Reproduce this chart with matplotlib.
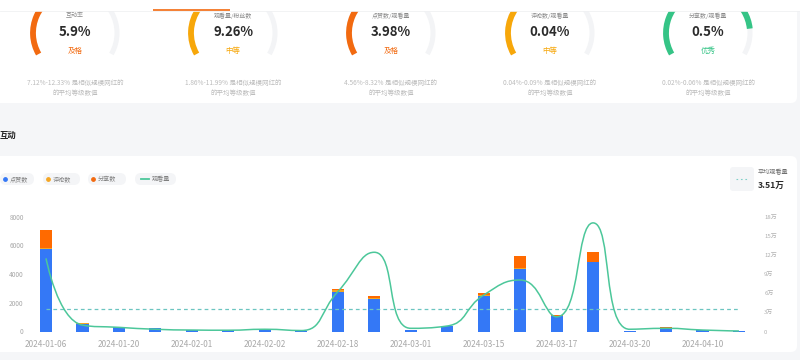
import numpy as np
import matplotlib
matplotlib.use('agg')
import matplotlib.pyplot as plt
from matplotlib.patches import Arc, FancyBboxPatch, Rectangle
from matplotlib.path import Path
from matplotlib.patches import PathPatch
from matplotlib.ticker import FuncFormatter

plt.rcParams['font.family'] = ['Noto Sans CJK SC', 'DejaVu Sans']

# gauge cards
gauge_titles = ['互动率', '观看量/粉丝数', '点赞数/观看量', '评论数/观看量', '分享数/观看量']
gauge_values = ['5.9%', '9.26%', '3.98%', '0.04%', '0.5%']
gauge_grades = ['及格', '中等', '及格', '中等', '优秀']
gauge_fill = [0.45, 0.55, 0.45, 0.55, 0.85]
gauge_ranges = ['7.12%-12.33%', '1.86%-11.99%', '4.56%-8.32%', '0.04%-0.09%', '0.02%-0.06%']
grade_colors = {'及格': '#f26a10', '中等': '#f7a70a', '优秀': '#35c486'}

# interaction chart
dates = ['2024-01-06', '', '2024-01-20', '', '2024-02-01', '', '2024-02-02', '',
         '2024-02-18', '', '2024-03-01', '', '2024-03-15', '', '2024-03-17', '',
         '2024-03-20', '', '2024-04-10', '']
likes = [5720, 550, 330, 210, 100, 100, 150, 20, 2770, 2280,
         110, 370, 2470, 4350, 1080, 4810, 60, 250, 100, 60]
comments = [120, 20, 10, 5, 0, 0, 0, 5, 150, 80,
            5, 5, 60, 50, 30, 40, 0, 10, 0, 0]
shares = [1220, 0, 0, 5, 0, 0, 0, 5, 40, 130,
          5, 5, 130, 880, 60, 660, 0, 30, 0, 0]
views = [114500, 10000, 6500, 3500, 2300, 2000, 3500, 1500, 62300, 124000,
         5000, 8600, 57000, 80600, 23000, 170000, 3500, 5000, 2300, 800]
avg_views = 35100

BLUE = '#3478f6'
YELLOW = '#f5a623'
ORANGE = '#ff6a00'
GREEN = '#4cc79a'


def echarts_smooth(xs, ys, smooth=0.5):
    # control points like echarts' smooth line (no overshoot)
    verts = [(xs[0], ys[0])]
    codes = [Path.MOVETO]
    cp0 = (xs[0], ys[0])
    n = len(xs)
    for i in range(1, n):
        x, y = xs[i], ys[i]
        px, py = xs[i - 1], ys[i - 1]
        if i + 1 >= n:
            cp1 = (x, y)
            ncp0 = (x, y)
        else:
            nx_, ny_ = xs[i + 1], ys[i + 1]
            vx, vy = nx_ - px, ny_ - py
            lp = np.hypot(x - px, y - py)
            ln = np.hypot(nx_ - x, ny_ - y)
            r = ln / (ln + lp)
            ncx = x + vx * smooth * r
            ncy = y + vy * smooth * r
            ncx = min(ncx, max(nx_, x)); ncx = max(ncx, min(nx_, x))
            ncy = min(ncy, max(ny_, y)); ncy = max(ncy, min(ny_, y))
            vx, vy = ncx - x, ncy - y
            c1x = x - vx * lp / ln
            c1y = y - vy * lp / ln
            c1x = min(c1x, max(px, x)); c1x = max(c1x, min(px, x))
            c1y = min(c1y, max(py, y)); c1y = max(c1y, min(py, y))
            vx, vy = x - c1x, y - c1y
            ncp0 = (x + vx * ln / lp, y + vy * ln / lp)
            cp1 = (c1x, c1y)
        verts += [cp0, cp1, (x, y)]
        codes += [Path.CURVE4] * 3
        cp0 = ncp0
    return verts, codes


fig = plt.figure(figsize=(8, 3.6), dpi=100)
fig.patch.set_facecolor('#f5f6f8')

bg = fig.add_axes([0, 0, 1, 1])
bg.set_xlim(0, 800)
bg.set_ylim(360, 0)
bg.axis('off')

# cards
bg.add_patch(FancyBboxPatch((-20, -20), 817, 123, boxstyle='round,pad=0,rounding_size=6',
                            fc='white', ec='none'))
bg.add_patch(FancyBboxPatch((-20, 156), 817, 196, boxstyle='round,pad=0,rounding_size=6',
                            fc='white', ec='none'))

# gauges
centers = [75, 233, 391, 550, 708]
gcy, gr = 33, 42
for i, cx in enumerate(centers):
    col = grade_colors[gauge_grades[i]]
    bg.add_patch(Arc((cx, gcy), 2 * gr, 2 * gr, theta1=-210, theta2=30,
                     color='#f3f4f6', lw=3.6))
    end = 210 - gauge_fill[i] * 240
    bg.add_patch(Arc((cx, gcy), 2 * gr, 2 * gr, theta1=-210, theta2=-end,
                     color=col, lw=4.2))
    bg.text(cx, 15.5, gauge_titles[i], ha='center', va='center', fontsize=4.3, color='#8a8a8a')
    bg.text(cx, 32, gauge_values[i], ha='center', va='center', fontsize=9.5,
            color='#2b2b2b', fontweight='bold')
    bg.text(cx, 51, gauge_grades[i], ha='center', va='center', fontsize=5.4, color=col)
    bg.text(cx, 83.5, gauge_ranges[i] + ' 是相似规模网红的', ha='center', va='center',
            fontsize=4.7, color='#bcbcbc')
    bg.text(cx, 92.5, '的平均等级数值', ha='center', va='center', fontsize=4.7, color='#bcbcbc')

bg.add_patch(Rectangle((0, -1), 800, 11.5, fc='white', ec='none'))
bg.plot([0, 800], [11, 11], color='#f0f1f3', lw=0.6)
bg.plot([153, 230], [10, 10], color='#f26a10', lw=1.2, solid_capstyle='butt')

bg.text(0, 135, '互动', ha='left', va='center', fontsize=6, color='#222222', fontweight='bold')

# legend pills
pills = [(0, 34, '点赞数', BLUE, 'dot'), (43, 80, '评论数', YELLOW, 'dot'),
         (88, 126, '分享数', '#f26a10', 'dot'), (135, 176, '观看量', GREEN, 'line')]
for x0, x1, lab, col, kind in pills:
    bg.add_patch(FancyBboxPatch((x0, 173), x1 - x0, 12, boxstyle='round,pad=0,rounding_size=6',
                                fc='#f4f5f7', ec='none'))
    if kind == 'dot':
        bg.scatter([x0 + 5], [179], s=6, color=col, zorder=3)
        bg.text(x0 + 10, 179, lab, ha='left', va='center', fontsize=4.4, color='#808080')
    else:
        bg.plot([x0 + 6, x0 + 14], [179, 179], color=col, lw=1.3)
        bg.text(x0 + 17, 179, lab, ha='left', va='center', fontsize=4.4, color='#808080')

# average box
bg.add_patch(FancyBboxPatch((730, 167), 24, 24, boxstyle='round,pad=0,rounding_size=3',
                            fc='#f4f5f7', ec='none'))
bg.plot([736, 748], [178.5, 178.5], color='#7fd0c8', lw=0.8, ls=(0, (1.5, 2.5)))
bg.text(758, 172, '平均观看量', ha='left', va='center', fontsize=4.4, color='#6f6f6f')
bg.text(758, 185.5, f'{avg_views / 10000:.2f}万', ha='left', va='center', fontsize=6.2,
        color='#2b2b2b', fontweight='bold')

# chart axes
ax = fig.add_axes([27.8 / 800, (360 - 331.5) / 360, 729.4 / 800, 115 / 360])
ax.patch.set_alpha(0)
x = np.arange(len(likes))
w = 0.33
likes_a = np.array(likes)
comments_a = np.array(comments)
shares_a = np.array(shares)
ax.bar(x, likes_a, w, color=BLUE, zorder=3)
ax.bar(x, comments_a, w, bottom=likes_a, color=YELLOW, zorder=3)
ax.bar(x, shares_a, w, bottom=likes_a + comments_a, color=ORANGE, zorder=3)
ax.set_xlim(-0.5, len(likes) - 0.5)
ax.set_ylim(0, 8000)
ax.set_yticks([0, 2000, 4000, 6000, 8000])
ax.set_xticks(x[::2])
ax.set_xticklabels(dates[::2])
for s in ax.spines.values():
    s.set_visible(False)
ax.tick_params(axis='both', length=0, colors='#a8a8a8')
ax.tick_params(axis='x', labelsize=5.9, pad=6)
ax.tick_params(axis='y', labelsize=4.7, pad=3)

ax2 = ax.twinx()
ax2.set_ylim(0, 180000)
ax2.set_yticks(np.arange(0, 180001, 30000))
ax2.yaxis.set_major_formatter(FuncFormatter(lambda v, p: '0' if v == 0 else f'{v / 10000:.0f}万'))
for s in ax2.spines.values():
    s.set_visible(False)
ax2.tick_params(axis='y', length=0, colors='#b0b0b0', labelsize=4.3, pad=5)

ax2.hlines(avg_views, 0, len(views) - 1, colors='#6cc5c0', lw=0.9, ls=(0, (3, 2.5)), zorder=1)
ax.set_zorder(2)
ax2.set_zorder(3)
ax2.patch.set_alpha(0)

# smoothing in pixel space then back to data
sx, sy = 36.47, 115 / 180000
verts, codes = echarts_smooth([i * sx for i in x], [v * sy for v in views])
verts = [(vx / sx, vy / sy) for vx, vy in verts]
ax2.add_patch(PathPatch(Path(verts, codes), fc='none', ec=GREEN, lw=1.1, zorder=4))

fig.savefig('out.png', dpi=100, facecolor=fig.get_facecolor())
